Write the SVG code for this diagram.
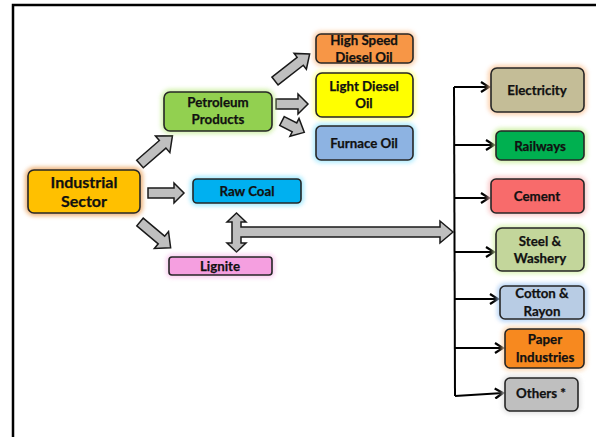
<svg xmlns="http://www.w3.org/2000/svg" width="596" height="437" viewBox="0 0 596 437">
<defs>
<filter id="glow" x="-20%" y="-40%" width="140%" height="180%"><feGaussianBlur stdDeviation="2"/></filter>
<marker id="ah" viewBox="-10 -6 12 12" refX="0" refY="0" markerWidth="12" markerHeight="12" markerUnits="userSpaceOnUse" orient="auto">
<path d="M-8,-5 L0,0 L-8,5" fill="none" stroke="#000" stroke-width="2.2"/>
</marker>
</defs>
<style>
.box{stroke:#262626;stroke-width:1.6}
.g{stroke-width:6;fill:none;filter:url(#glow);opacity:.8}
.t{font-family:Lato,"Open Sans","Liberation Sans",sans-serif;font-weight:bold;font-size:13.3px;fill:#111;text-anchor:middle;stroke:#111;stroke-width:0.25}
.big{font-size:16px}
.blk{fill:#BFBFBF;stroke:#1a1a1a;stroke-width:1.5;stroke-linejoin:miter}
.ln{stroke:#000;stroke-width:2;fill:none}
</style>
<rect width="596" height="437" fill="#fff"/>
<path d="M13,437 V5 H596" fill="none" stroke="#000" stroke-width="2.5"/>

<g id="connectors">
<polygon class="blk" transform="translate(140,164) rotate(-41)" points="0,-5 30,-5 30,-11 43,0 30,11 30,5 0,5"/>
<polygon class="blk" points="148,188 174,188 174,183 184,193 174,203 174,198 148,198"/>
<polygon class="blk" transform="translate(140,222) rotate(40)" points="0,-5 28,-5 28,-11 40,0 28,11 28,5 0,5"/>
<polygon class="blk" transform="translate(275,81) rotate(-38)" points="0,-5 32,-5 32,-10 44,0 32,10 32,5 0,5"/>
<polygon class="blk" points="276,99 298,99 298,94 308,104 298,114 298,109 276,109"/>
<polygon class="blk" transform="translate(282,121) rotate(27)" points="0,-5 14,-5 14,-10 25,0 14,10 14,5 0,5"/>
<polygon class="blk" points="236.5,213 246,222 241,222 241,227 440,227 440,221 453,232 440,243 440,237 241,237 241,243 246,243 236.5,252 227,243 232,243 232,222 227,222"/>
<path class="ln" d="M454,87 L455,396"/>
<path class="ln" marker-end="url(#ah)" d="M454,87 H489"/>
<path class="ln" marker-end="url(#ah)" d="M454,145 H494"/>
<path class="ln" marker-end="url(#ah)" d="M454,198 H489"/>
<path class="ln" marker-end="url(#ah)" d="M454,252 H494"/>
<path class="ln" marker-end="url(#ah)" d="M455,299 H498"/>
<path class="ln" marker-end="url(#ah)" d="M455,348 H503"/>
<path class="ln" marker-end="url(#ah)" d="M455,396 L503,393"/>
</g>

<g id="industrial">
<rect class="g" x="28" y="170" width="112" height="43" rx="6" stroke="#E9A15A"/>
<rect class="box" x="28" y="170" width="112" height="43" rx="6" fill="#FFC000"/>
<text class="t big" x="84" y="187.5">Industrial</text>
<text class="t big" x="84" y="206.5">Sector</text>
</g>
<g id="petroleum">
<rect class="g" x="164" y="92" width="108" height="39" rx="6" stroke="#C9EF9A"/>
<rect class="box" x="164" y="92" width="108" height="39" rx="6" fill="#92D050"/>
<text class="t" x="218" y="107">Petroleum</text>
<text class="t" x="218" y="124">Products</text>
</g>
<g id="rawcoal">
<rect class="g" x="193" y="179" width="108" height="24" rx="4" stroke="#8EE6FF"/>
<rect class="box" x="193" y="179" width="108" height="24" rx="4" fill="#00B0F0" stroke="#1F4E79"/>
<text class="t" x="247" y="196">Raw Coal</text>
</g>
<g id="lignite">
<rect class="g" x="169" y="257" width="103" height="18" rx="3" stroke="#F9C4EE"/>
<rect class="box" x="169" y="257" width="103" height="18" rx="3" fill="#F59FE0" stroke="#3F5F8F"/>
<text class="t" x="220" y="271">Lignite</text>
</g>
<g id="hsd">
<rect class="g" x="316" y="34" width="97" height="29" rx="5" stroke="#FBC69A"/>
<rect class="box" x="316" y="34" width="97" height="29" rx="5" fill="#F79646"/>
<text class="t" x="364" y="45">High Speed</text>
<text class="t" x="364" y="62">Diesel Oil</text>
</g>
<g id="ldo">
<rect class="g" x="316" y="73" width="97" height="44" rx="6" stroke="#FFFF88"/>
<rect class="box" x="316" y="73" width="97" height="44" rx="6" fill="#FFFF00"/>
<text class="t" x="364" y="91">Light Diesel</text>
<text class="t" x="364" y="108">Oil</text>
</g>
<g id="furnace">
<rect class="g" x="316" y="126" width="97" height="34" rx="5" stroke="#9EE8FF"/>
<rect class="box" x="316" y="126" width="97" height="34" rx="5" fill="#8DB3E2"/>
<text class="t" x="364" y="148">Furnace Oil</text>
</g>
<g id="electricity">
<rect class="g" x="491" y="68" width="93" height="44" rx="6" stroke="#FBC69A"/>
<rect class="box" x="491" y="68" width="93" height="44" rx="6" fill="#C4BD97"/>
<text class="t" x="537" y="95">Electricity</text>
</g>
<g id="railways">
<rect class="g" x="496" y="131" width="88" height="29" rx="5" stroke="#C9EF9A"/>
<rect class="box" x="496" y="131" width="88" height="29" rx="5" fill="#00B050"/>
<text class="t" x="540" y="151">Railways</text>
</g>
<g id="cement">
<rect class="g" x="491" y="179" width="93" height="34" rx="5" stroke="#F9C0C0"/>
<rect class="box" x="491" y="179" width="93" height="34" rx="5" fill="#F86B6B"/>
<text class="t" x="537" y="201">Cement</text>
</g>
<g id="steel">
<rect class="g" x="496" y="228" width="88" height="43" rx="6" stroke="#D5F2A8"/>
<rect class="box" x="496" y="228" width="88" height="43" rx="6" fill="#C3D69B"/>
<text class="t" x="540" y="246">Steel &amp;</text>
<text class="t" x="540" y="263">Washery</text>
</g>
<g id="cotton">
<rect class="g" x="500" y="286" width="84" height="33" rx="5" stroke="#A9CCF5"/>
<rect class="box" x="500" y="286" width="84" height="33" rx="5" fill="#B8CCE4"/>
<text class="t" x="542" y="298">Cotton &amp;</text>
<text class="t" x="542" y="316">Rayon</text>
</g>
<g id="paper">
<rect class="g" x="505" y="329" width="79" height="39" rx="5" stroke="#FBD2A8"/>
<rect class="box" x="505" y="329" width="79" height="39" rx="5" fill="#F7891F"/>
<text class="t" x="545" y="344">Paper</text>
<text class="t" x="545" y="362">Industries</text>
</g>
<g id="others">
<rect class="g" x="505" y="378" width="73" height="33" rx="5" stroke="#DDDDDD"/>
<rect class="box" x="505" y="378" width="73" height="33" rx="5" fill="#BFBFBF"/>
<text class="t" x="541" y="398">Others *</text>
</g>
</svg>
